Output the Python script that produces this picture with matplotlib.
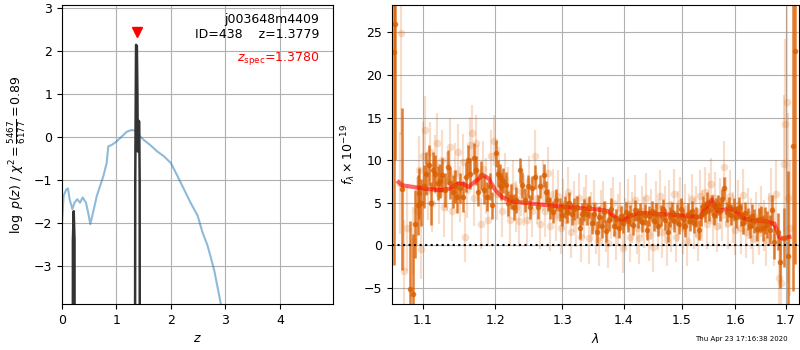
import numpy as np
import matplotlib
matplotlib.use("Agg")
import matplotlib.pyplot as plt

# --- p(z) panel ---
z_chi2 = [0.0, 0.03, 0.08, 0.11, 0.14, 0.19, 0.23, 0.28, 0.33, 0.38, 0.44, 0.48, 0.52,
          0.57, 0.64, 0.70, 0.76, 0.82, 0.85, 0.91, 1.0, 1.10, 1.19, 1.28, 1.35, 1.41,
          1.50, 1.62, 1.75, 1.87, 2.0, 2.12, 2.24, 2.36, 2.49, 2.58, 2.67, 2.73, 2.80,
          2.86, 2.91, 2.95]
chi2_curve = [-1.98, -1.36, -1.21, -1.19, -1.44, -1.67, -1.52, -1.44, -1.52, -1.40, -1.52,
              -1.75, -2.02, -1.75, -1.36, -1.13, -0.90, -0.60, -0.21, -0.18, -0.10, 0.02,
              0.13, 0.17, 0.15, 0.05, -0.06, -0.18, -0.33, -0.44, -0.60, -0.90, -1.21,
              -1.52, -1.82, -2.21, -2.51, -2.78, -3.12, -3.51, -3.83, -4.2]

z_pz = [0.0, 0.195, 0.200, 0.215, 0.230, 0.235, 1.335, 1.345, 1.360, 1.375, 1.385,
        1.392, 1.400, 1.410, 1.418, 1.426, 1.432, 5.0]
log_pz = [-12, -12, -2.4, -1.72, -2.4, -12, -12, -1.0, 2.15, 2.12, 1.0,
          -0.33, -0.30, 0.38, 0.36, -1.0, -12, -12]

z_spec = 1.3780
z_best = 1.3779
obj_name = "j003648m4409"
obj_id = 438
chi2_num, chi2_den = 5467, 6177

# --- spectrum panel ---
# binned spectrum (dark)
lam_bin = [1.0624, 1.0646, 1.0731, 1.0838, 1.0874, 1.0904, 1.0935, 1.0948, 1.0975, 1.1013,
           1.1050, 1.1079, 1.1110, 1.1138, 1.1168, 1.1199, 1.1236, 1.1257, 1.1302, 1.1334,
           1.1368, 1.1404, 1.1436, 1.1458, 1.1500, 1.1552, 1.1590, 1.1620, 1.1640, 1.1693,
           1.1720, 1.1755, 1.1790, 1.1836, 1.1880, 1.1930, 1.1960, 1.2010, 1.2044, 1.2067,
           1.2088, 1.2110, 1.2158, 1.2180, 1.2225, 1.2270, 1.2305, 1.2354, 1.2393, 1.2430,
           1.2477, 1.2510, 1.2547, 1.2585, 1.2634, 1.2668, 1.2715, 1.2750, 1.2786, 1.2820,
           1.2860, 1.2907, 1.2960, 1.3000, 1.3040, 1.3077, 1.3110, 1.3156, 1.3194, 1.3232,
           1.3275, 1.3310, 1.3350, 1.3390, 1.3430, 1.3470, 1.3510, 1.3550, 1.3590, 1.3630,
           1.3670, 1.3710, 1.3750, 1.3790, 1.3830, 1.3870, 1.3910, 1.3950, 1.3990, 1.4030,
           1.4070, 1.4110, 1.4150, 1.4190, 1.4230, 1.4270, 1.4310, 1.4350, 1.4390, 1.4430,
           1.4470, 1.4510, 1.4550, 1.4590, 1.4630, 1.4670, 1.4710, 1.4750, 1.4790, 1.4830,
           1.4870, 1.4910, 1.4950, 1.4990, 1.5030, 1.5070, 1.5110, 1.5150, 1.5190, 1.5230,
           1.5270, 1.5310, 1.5350, 1.5390, 1.5430, 1.5470, 1.5510, 1.5550, 1.5590, 1.5630,
           1.5670, 1.5710, 1.5750, 1.5784, 1.5830, 1.5870, 1.5920, 1.5974, 1.6020, 1.6060,
           1.6103, 1.6150, 1.6190, 1.6233, 1.6280, 1.6320, 1.6361, 1.6410, 1.6450, 1.6493,
           1.6540, 1.6580, 1.6626, 1.6680, 1.6726, 1.6750, 1.6827, 1.6877, 1.6950, 1.7040,
           1.7143, 1.7192]
flux_bin = [22.7, 26.0, 6.6, -5.1, -5.7, 2.5, 4.7, 6.1, 5.0, 6.9,
            8.4, 9.4, 4.9, 8.8, 8.4, 7.3, 7.6, 8.2, 6.5, 9.2,
            7.3, 6.3, 6.9, 5.7, 6.7, 5.7, 8.0, 10.0, 8.4, 10.2,
            8.8, 6.3, 8.2, 6.5, 5.7, 6.9, 4.7, 10.8, 8.4, 8.0,
            6.9, 7.6, 7.1, 4.9, 5.7, 4.5, 5.3, 8.8, 7.1, 5.3,
            6.9, 4.5, 6.7, 8.0, 4.5, 6.9, 8.2, 6.3, 5.3, 4.4,
            3.9, 5.3, 4.2, 3.6, 4.5, 3.9, 4.9, 3.7, 4.3, 4.5,
            2.0, 3.7, 4.1, 3.7, 4.5, 2.6, 3.7, 1.5, 3.3, 2.2,
            3.9, 1.7, 3.0, 4.2, 2.3, 3.1, 2.0, 3.4, 2.6, 3.9,
            2.8, 3.5, 2.4, 4.1, 3.2, 3.8, 2.7, 3.6, 1.8, 3.4,
            4.0, 2.9, 3.7, 2.3, 3.5, 4.2, 3.0, 1.6, 3.3, 3.9,
            2.8, 3.6, 2.5, 4.3, 3.1, 2.2, 3.7, 2.9, 4.0, 2.6,
            3.3, 1.8, 3.5, 4.6, 3.9, 5.0, 4.1, 4.7, 3.6, 4.4,
            4.7, 4.0, 5.4, 6.7, 3.9, 4.5, 3.6, 4.3, 3.3, 4.4,
            3.5, 2.6, 3.8, 3.1, 2.2, 3.4, 2.8, 1.9, 3.0, 3.1,
            2.0, 2.9, 2.4, 1.8, 4.1, 0.4, 1.6, -2.0, 0.9, -1.3,
            11.6, 22.8]
err_bin = [25, 16, 9.5, 8, 7, 4, 3.5, 3, 2.8, 2.5,
           2.5, 2.4, 2.5, 2.2, 2.2, 2.0, 2.0, 2.0, 2.0, 2.0,
           1.9, 1.9, 1.9, 1.9, 1.8, 1.8, 1.8, 1.8, 1.8, 1.8,
           1.7, 1.7, 1.7, 1.7, 1.7, 1.6, 1.6, 1.6, 1.6, 1.6,
           1.6, 1.5, 1.5, 1.5, 1.5, 1.5, 1.5, 1.5, 1.5, 1.4,
           1.4, 1.4, 1.4, 1.4, 1.4, 1.4, 1.4, 1.3, 1.3, 1.3,
           1.3, 1.3, 1.3, 1.3, 1.3, 1.3, 1.3, 1.3, 1.3, 1.3,
           1.3, 1.3, 1.3, 1.3, 1.3, 1.3, 1.3, 1.3, 1.3, 1.3,
           1.3, 1.3, 1.3, 1.3, 1.2, 1.2, 1.2, 1.2, 1.2, 1.2,
           1.2, 1.2, 1.2, 1.2, 1.2, 1.2, 1.2, 1.2, 1.2, 1.2,
           1.2, 1.2, 1.2, 1.2, 1.2, 1.2, 1.2, 1.2, 1.2, 1.2,
           1.2, 1.2, 1.2, 1.2, 1.2, 1.2, 1.2, 1.2, 1.2, 1.2,
           1.2, 1.2, 1.2, 1.2, 1.2, 1.2, 1.2, 1.2, 1.2, 1.2,
           1.2, 1.2, 1.2, 1.3, 1.2, 1.2, 1.2, 1.3, 1.3, 1.3,
           1.3, 1.3, 1.3, 1.3, 1.3, 1.4, 1.4, 1.4, 1.4, 1.5,
           1.5, 1.6, 1.6, 1.7, 1.8, 2.0, 2.2, 3.0, 3.5, 10,
           17, 25]

# unbinned spectrum (light)
lam_raw = [1.0725, 1.0700, 1.0760, 1.0800, 1.0880, 1.0920, 1.0950, 1.0985, 1.1000, 1.1030,
           1.1070, 1.1100, 1.1130, 1.1160, 1.1190, 1.1220, 1.1260, 1.1290, 1.1330, 1.1370,
           1.1400, 1.1430, 1.1470, 1.1500, 1.1540, 1.1570, 1.1600, 1.1640, 1.1670, 1.1700,
           1.1730, 1.1760, 1.1800, 1.1830, 1.1870, 1.1900, 1.1940, 1.1980, 1.2020, 1.2060,
           1.2100, 1.2140, 1.2180, 1.2220, 1.2260, 1.2300, 1.2340, 1.2380, 1.2420, 1.2460,
           1.2500, 1.2540, 1.2580, 1.2620, 1.2660, 1.2700, 1.2740, 1.2780, 1.2820, 1.2860,
           1.2900, 1.2940, 1.2980, 1.3020, 1.3060, 1.3100, 1.3140, 1.3180, 1.3220, 1.3260,
           1.3300, 1.3340, 1.3380, 1.3420, 1.3460, 1.3500, 1.3540, 1.3580, 1.3620, 1.3660,
           1.3700, 1.3740, 1.3780, 1.3820, 1.3860, 1.3900, 1.3940, 1.3980, 1.4020, 1.4060,
           1.4100, 1.4140, 1.4180, 1.4220, 1.4260, 1.4300, 1.4340, 1.4380, 1.4420, 1.4460,
           1.4500, 1.4540, 1.4580, 1.4620, 1.4660, 1.4700, 1.4740, 1.4780, 1.4820, 1.4860,
           1.4900, 1.4940, 1.4980, 1.5020, 1.5060, 1.5100, 1.5140, 1.5180, 1.5220, 1.5260,
           1.5300, 1.5340, 1.5380, 1.5420, 1.5460, 1.5500, 1.5540, 1.5580, 1.5620, 1.5660,
           1.5700, 1.5740, 1.5780, 1.5820, 1.5860, 1.5900, 1.5950, 1.6000, 1.6050, 1.6100,
           1.6150, 1.6200, 1.6250, 1.6300, 1.6350, 1.6400, 1.6450, 1.6500, 1.6550, 1.6600,
           1.6650, 1.6700, 1.6750, 1.6800, 1.6850, 1.6900, 1.6950, 1.6980, 1.7010, 1.7050,
           1.7080]
flux_raw = [24.9, 7.3, -3.0, 2.0, 0.5, 4.0, 8.8, -0.5, 10.5, 13.5,
            6.5, 11.0, 5.0, 9.5, 12.0, 6.0, 10.0, 4.5, 7.5, 11.5,
            4.0, 8.5, 11.0, 6.0, 9.8, 1.0, 6.5, 11.8, 13.2, 5.5,
            12.0, 8.5, 2.5, 9.0, 7.0, 3.0, 10.5, 12.3, 6.0, 8.5,
            4.0, 7.8, 6.2, 3.0, 7.0, 4.5, 2.8, 6.4, 5.2, 3.0,
            7.5, 4.0, 10.5, 5.5, 2.5, 7.0, 4.0, 8.5, 2.3, 6.0,
            3.5, 5.8, 2.0, 4.8, 3.0, 6.2, 1.5, 4.5, 2.8, 5.5,
            1.0, 3.8, 5.2, 0.8, 3.3, 4.7, 2.0, 0.5, 3.5, 4.6,
            2.2, 0.3, 3.7, 5.0, 1.3, 3.0, 4.4, -0.3, 2.6, 4.8,
            1.0, 3.3, 5.3, 2.0, 0.8, 4.0, 2.7, 5.5, 1.2, 3.6,
            -0.2, 4.5, 2.4, 5.8, 1.5, 3.9, 0.6, 4.7, 2.2, 6.0,
            1.0, 3.4, 5.0, 2.0, 4.2, 0.5, 3.0, 5.4, 2.6, 4.0,
            1.2, 5.8, 3.5, 6.2, 2.5, 5.5, 7.2, 3.0, 5.6, 2.2,
            4.9, 3.5, 9.2, 5.0, 2.6, 5.8, 3.2, 1.8, 4.7, 2.0,
            5.9, 1.5, 3.7, 2.6, 0.8, 3.3, 1.8, 4.0, 2.3, 0.6,
            3.1, 5.6, 1.0, 6.0, -3.8, -4.4, 9.6, 14.2, 16.8, 5.5,
            2.0]
err_raw = [12, 6, 6, 5, 4, 4, 4, 3.5, 4, 4,
           3.5, 3.5, 3.5, 3.5, 3.5, 3.5, 3.5, 3.5, 3.5, 3.5,
           3.5, 3.5, 3.3, 3.3, 3.3, 3.0, 3.3, 3.3, 3.3, 3.3,
           3.3, 3.3, 3.0, 3.3, 3.3, 3.0, 3.0, 3.0, 3.0, 3.0,
           3.0, 3.0, 3.0, 3.0, 3.0, 3.0, 3.0, 3.0, 3.0, 3.0,
           3.0, 3.0, 3.0, 3.0, 3.0, 3.0, 3.0, 3.0, 3.0, 3.0,
           3.0, 3.0, 3.0, 3.0, 3.0, 3.0, 3.0, 3.0, 3.0, 3.0,
           3.0, 3.0, 3.0, 3.0, 3.0, 3.0, 3.0, 3.0, 3.0, 3.0,
           3.0, 3.0, 3.0, 3.0, 3.0, 3.0, 3.0, 3.0, 3.0, 3.0,
           3.0, 3.0, 3.0, 3.0, 3.0, 3.0, 3.0, 3.0, 3.0, 3.0,
           3.0, 3.0, 3.0, 3.0, 3.0, 3.0, 3.0, 3.0, 3.0, 3.0,
           3.0, 3.0, 3.0, 3.0, 3.0, 3.0, 3.0, 3.0, 3.0, 3.0,
           3.0, 3.0, 3.0, 3.0, 3.0, 3.0, 3.0, 3.0, 3.0, 3.0,
           3.0, 3.0, 3.0, 3.0, 3.0, 3.0, 3.0, 3.0, 3.0, 3.0,
           3.0, 3.0, 3.0, 3.0, 3.0, 3.0, 3.0, 3.0, 3.0, 3.0,
           3.0, 3.5, 3.5, 4.0, 4.0, 5.0, 8.0, 10, 12, 10,
           8]

# best-fit model (red)
lam_model = [1.0688, 1.0728, 1.1013, 1.1236, 1.1370, 1.1483, 1.1552, 1.1622, 1.1739, 1.1824,
             1.1905, 1.2001, 1.2097, 1.2219, 1.2516, 1.3030, 1.3564, 1.3727, 1.3850, 1.3893,
             1.4000, 1.4112, 1.4283, 1.4689, 1.4986, 1.5289, 1.5350, 1.5412, 1.5554, 1.5660,
             1.5786, 1.5913, 1.6000, 1.6173, 1.6302, 1.6563, 1.6763, 1.6864, 1.6931, 1.7068]
flux_model = [7.4, 7.05, 6.66, 6.46, 6.66, 7.25, 7.17, 6.85, 7.64, 8.26,
              7.83, 6.46, 5.68, 5.17, 4.9, 4.5, 4.19, 4.03, 3.3, 3.13,
              2.94, 3.5, 3.8, 3.64, 3.5, 3.33, 3.3, 4.1, 5.37, 4.03,
              4.19, 4.27, 4.03, 3.13, 2.94, 2.82, 2.55, 0.98, 0.78, 0.98]

wave_ticks = [1.1, 1.2, 1.3, 1.4, 1.5, 1.6, 1.7]
timestamp = "Thu Apr 23 17:16:38 2020"

plt.rcParams['font.size'] = 9
orange = (0.85, 0.37, 0.0)

fig = plt.figure(figsize=(8, 3.5), dpi=100)
ax1 = fig.add_axes([0.0775, 0.131, 0.339, 0.854])
ax2 = fig.add_axes([0.49, 0.131, 0.509, 0.854])

# p(z)
ax1.plot(z_chi2, chi2_curve, color='tab:blue', alpha=0.5, lw=1.5)
ax1.plot(z_pz, log_pz, color='0.2', lw=1.8)
ax1.plot([z_spec], [2.45], marker='v', color='red', ms=7, ls='none')
ax1.text(0.95, 0.975, f"{obj_name}\nID={obj_id}    z={z_best:.4f}",
         transform=ax1.transAxes, ha='right', va='top', fontsize=9)
ax1.text(0.95, 0.85, r"$z_\mathrm{spec}$" + f"={z_spec:.4f}", transform=ax1.transAxes,
         ha='right', va='top', fontsize=9, color='red')
ax1.set_xlim(0, 4.98)
ax1.set_ylim(-3.88, 3.07)
ax1.set_xticks([0, 1, 2, 3, 4])
ax1.set_yticks([-3, -2, -1, 0, 1, 2, 3])
ax1.set_xlabel(r"$z$")
ax1.set_ylabel(r"$\log\ p(z)$ / $\chi^2=\frac{%d}{%d}=%.2f$" % (chi2_num, chi2_den, chi2_num / chi2_den))
ax1.grid()

# spectrum
ax2.errorbar(lam_raw, flux_raw, yerr=err_raw, fmt='o', color=orange, alpha=0.2,
             ms=5.5, lw=1.6, mew=0)
ax2.errorbar(lam_bin, flux_bin, yerr=err_bin, fmt='o', color=orange, alpha=0.8,
             ms=4, lw=1.8, mew=0)
ax2.plot(lam_model, flux_model, color='red', alpha=0.6, lw=3)
ax2.axhline(0, color='k', ls=':', lw=1.5)
ax2.set_xscale('log')
ax2.set_xlim(1.0604, 1.727)
ax2.set_ylim(-6.93, 28.2)
ax2.set_xticks(wave_ticks)
ax2.set_xticklabels([f"{w:.1f}" for w in wave_ticks])
ax2.xaxis.set_minor_locator(matplotlib.ticker.NullLocator())
ax2.set_yticks([-5, 0, 5, 10, 15, 20, 25])
ax2.set_xlabel(r"$\lambda$")
ax2.set_ylabel(r"$f_\lambda \times 10^{-19}$")
ax2.grid()

fig.text(0.984, 0.031, timestamp, ha='right', va='center', fontsize=5)

plt.savefig("out.png", dpi=100)
